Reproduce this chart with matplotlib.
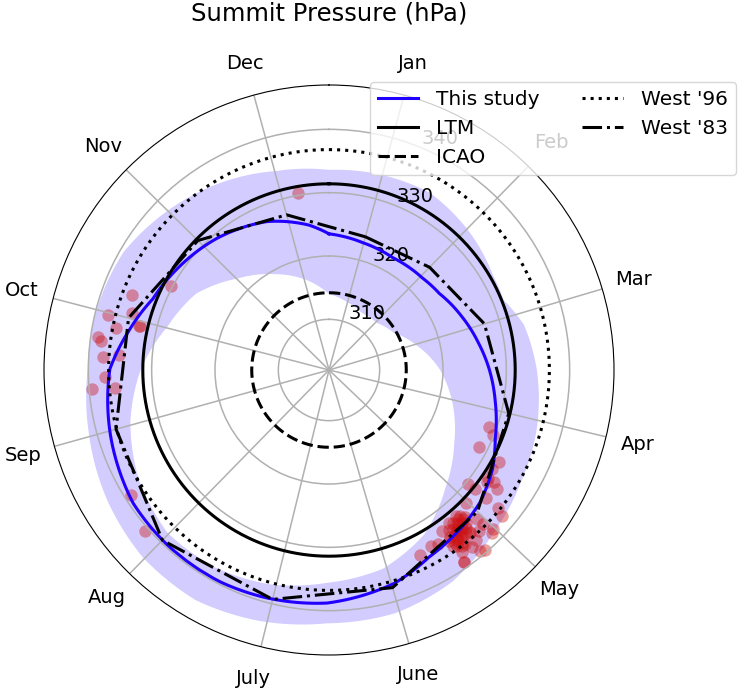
import numpy as np
import matplotlib
matplotlib.use('Agg')
import matplotlib.pyplot as plt

# month labels sit at mid month (day of year)
month_days = [15.5, 45, 74.5, 105, 135.5, 166, 196.5, 227.5, 258, 288.5, 319, 349.5]
month_names = ['Jan', 'Feb', 'Mar', 'Apr', 'May', 'June', 'July', 'Aug', 'Sep', 'Oct', 'Nov', 'Dec']

# this study - mean annual cycle (hPa)
study_day = [0, 15, 30, 46, 56, 69, 81, 91, 102, 114, 123, 133, 142, 154, 165,
             183, 198, 210, 226, 239, 257, 274, 285, 296, 309, 324, 342, 348, 357, 365]
study_p = [323.5, 322.8, 322.4, 322.7, 323.2, 324.6, 326.0, 327.3, 328.7, 330.4, 332.2, 333.7, 334.5, 335.5, 337.2,
           338.8, 339.3, 339.6, 339.6, 339.4, 338.0, 336.6, 334.2, 332.0, 330.7, 329.3, 327.4, 326.5, 325.1, 323.5]

# shaded range of this study
band_lo_day = [0, 15, 30, 46, 61, 76, 91, 106, 122, 137, 152, 167, 183, 198, 213, 228, 243, 259, 274, 289, 304, 319, 335, 350, 365]
band_lo = [314.0, 313.1, 312.4, 312.6, 313.8, 316.5, 319.5, 322.1, 324.9, 328.1, 332.0, 334.5, 335.6, 337.1, 338.0,
           338.2, 336.7, 334.4, 331.7, 328.4, 326.2, 322.5, 319.4, 316.8, 314.0]
band_hi_day = [0, 15, 30, 46, 61, 69, 78, 91, 106, 122, 137, 152, 167, 183, 198, 213, 228, 243, 259, 274, 289, 304, 319, 335, 350, 365]
band_hi = [333.6, 333.9, 334.2, 333.1, 331.9, 331.7, 333.6, 334.8, 336.0, 337.1, 338.6, 340.7, 341.8, 342.0, 343.1,
           344.0, 343.7, 342.6, 341.2, 340.1, 339.9, 339.4, 337.8, 336.1, 334.5, 333.6]

# other estimates
ltm_p = 331.4
icao_p = 314.2
west96_p = 336.8
west83_day = month_days + [365 + 15.5]
west83_p = [323.8, 324.7, 327.6, 331.2, 334.4, 337.8, 339.3, 339.6, 336.9, 334.7, 331.1, 327.4, 323.8]

# summit observations
obs_day = [111, 113, 119, 120, 123, 126, 127, 126, 131, 131, 127, 131, 136, 131, 132, 141, 144, 140, 137, 137,
           136, 145, 143, 141, 145, 144, 141, 141, 146, 147, 150, 152, 156, 142, 147, 144, 143, 139, 141, 143,
           147, 147, 137, 142, 143, 144, 141, 145, 142, 140, 146,
           141, 142, 143, 144, 145, 146, 140, 142, 144, 146, 143, 141, 145, 139, 147,
           295, 288, 290, 285, 287, 281, 282, 277, 278, 302, 272, 269, 269, 287,
           355, 241, 232]
obs_p = [328.8, 329.9, 328.6, 332.5, 332.2, 332.4, 332.6, 333.5, 330.4, 331.8, 334.5, 333.9, 332.2, 336.4, 337.8,
         332.6, 332.7, 333.7, 335.2, 336.4, 338.1, 333.6, 334.9, 335.9, 335.5, 336.8, 337.5, 339.7, 337.6, 339.1,
         334.4, 334.1, 334.6, 339.2, 335.0, 336.4, 338.0, 336.7, 335.0, 333.1, 339.1, 333.0, 338.4,
         333.5, 334.2, 334.6, 334.0, 334.8, 335.6, 334.4, 335.8,
         333.2, 333.9, 334.5, 335.2, 335.9, 336.3, 333.0, 334.8, 333.8, 334.6, 335.5, 336.0, 336.8, 333.6, 336.0,
         335.3, 338.0, 334.4, 336.3, 332.8, 338.3, 338.8, 337.8, 335.3, 330.3, 337.4, 335.9, 339.6, 332.6,
         330.4, 338.9, 340.5]


def ang(d):
    return np.asarray(d, dtype=float) / 365.0 * 2 * np.pi


blue = '#2200ff'
full = np.linspace(0, 2 * np.pi, 361)

fig = plt.figure(figsize=(7.4, 6.93), dpi=100)
ax = fig.add_axes([44 / 740, 38 / 693, 570 / 740, 570 / 693], projection='polar')
ax.set_theta_zero_location('N')
ax.set_theta_direction(-1)

# band as one closed polygon, drawn along polar arcs
th = np.concatenate([ang(band_hi_day), ang(band_lo_day)[::-1]])
rr = np.concatenate([band_hi, band_lo[::-1]])
band = ax.fill(th, rr, color=blue, alpha=0.2, lw=0, zorder=1)[0]
band.get_path()._interpolation_steps = 12

ax.scatter(ang(obs_day), obs_p, s=80, color='#cc1111', alpha=0.4, lw=0, zorder=1.2)

l1, = ax.plot(ang(study_day), study_p, color=blue, lw=2.2, label='This study')
l1.get_path()._interpolation_steps = 12
ax.plot(full, np.full_like(full, ltm_p), color='k', lw=2.2, label='LTM')
ax.plot(full, np.full_like(full, icao_p), color='k', lw=2.2, ls='--', label='ICAO')
ax.plot(full, np.full_like(full, west96_p), color='k', lw=2.2, ls=':', label="West '96")
ax.plot(ang(west83_day), west83_p, color='k', lw=2.2, ls='-.', label="West '83")

ax.set_ylim(302, 347)
ax.set_yticks([310, 320, 330, 340])
ax.set_yticklabels(['310', '320', '330', '340'], fontsize=14)
ax.set_xticks(ang(month_days))
ax.set_xticklabels(month_names, fontsize=14)
ax.tick_params(axis='x', pad=13)
ax.grid(True, color='#b0b0b0', lw=1.1)

fig.text(329 / 740, 1 - 13 / 693, 'Summit Pressure (hPa)', fontsize=17.5, ha='center', va='center')

fig.legend(loc='upper left', bbox_to_anchor=(370 / 740, 1 - 82 / 693), ncol=2, fontsize=14.5,
           borderaxespad=0, handletextpad=0.9, columnspacing=2.1)

plt.savefig('out.png', dpi=100)
